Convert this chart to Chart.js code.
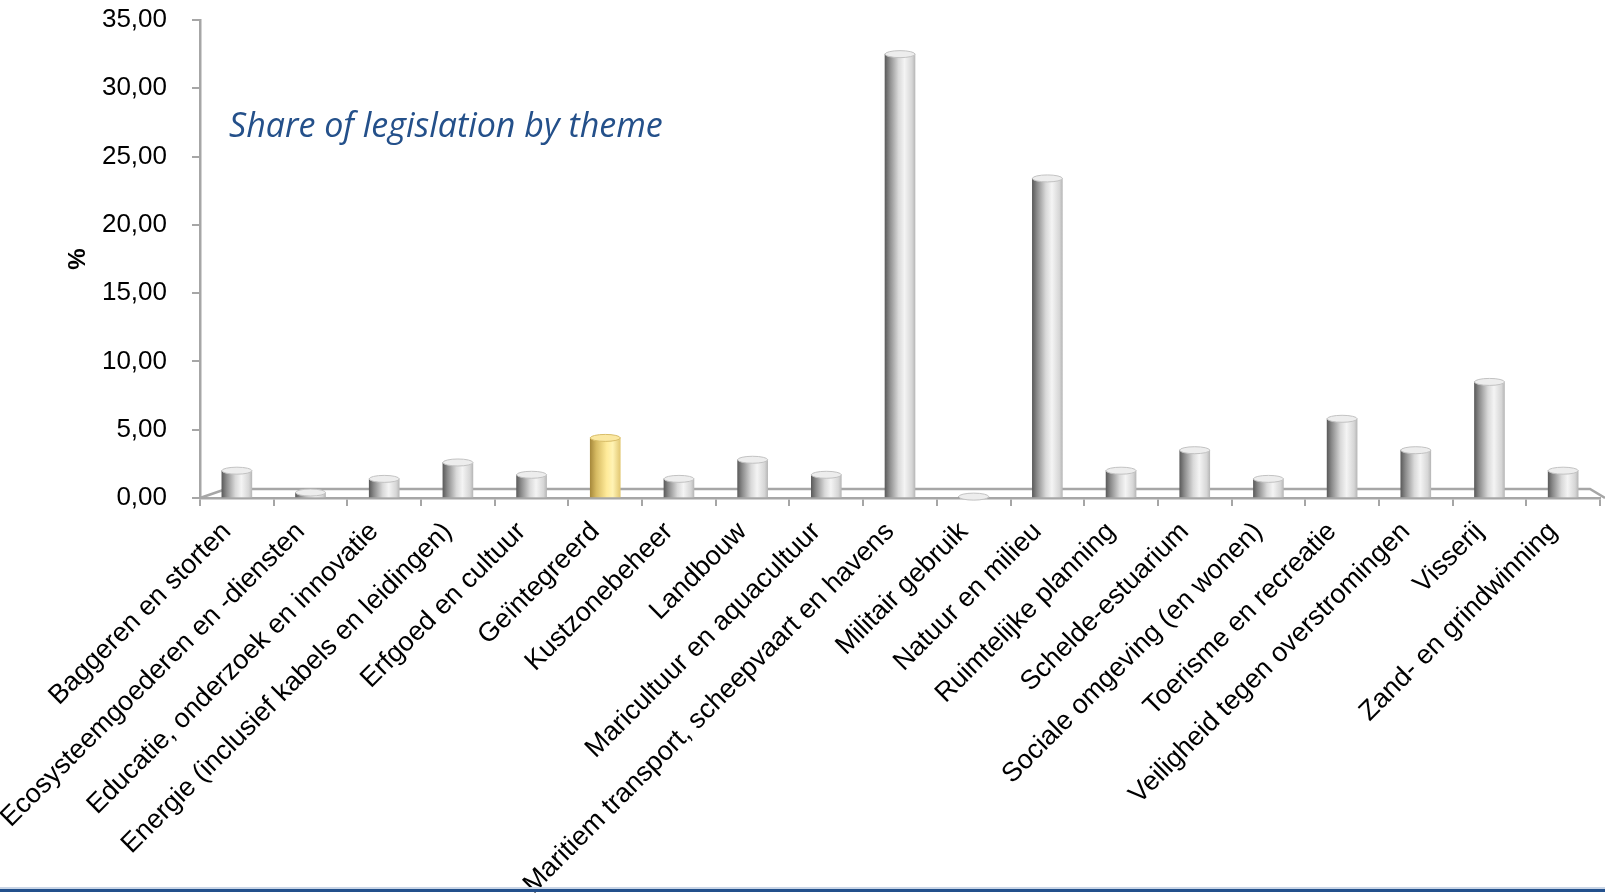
<!DOCTYPE html>
<html>
<head>
<meta charset="utf-8">
<script src="https://cdn.jsdelivr.net/npm/chart.js@4.4.1/dist/chart.umd.min.js"></script>
<style>
    body { margin: 0; background: #ffffff; }
    #wrap { position: relative; width: 1605px; height: 895px; }
    #lijn_licht { position: absolute; left: 0; top: 887px; width: 1605px; height: 2px; background: #c9d5e6; }
    #lijn_donker { position: absolute; left: 0; top: 889px; width: 1605px; height: 3px; background: #23508c; }
</style>
</head>
<body>
<div id="wrap">
    <canvas id="grafiek"></canvas>
    <div id="lijn_licht"></div>
    <div id="lijn_donker"></div>
</div>
<script>
const thema_labels = [
    'Baggeren en storten',
    'Ecosysteemgoederen en -diensten',
    'Educatie, onderzoek en innovatie',
    'Energie (inclusief kabels en leidingen)',
    'Erfgoed en cultuur',
    'Geïntegreerd',
    'Kustzonebeheer',
    'Landbouw',
    'Maricultuur en aquacultuur',
    'Maritiem transport, scheepvaart en havens',
    'Militair gebruik',
    'Natuur en milieu',
    'Ruimtelijke planning',
    'Schelde-estuarium',
    'Sociale omgeving (en wonen)',
    'Toerisme en recreatie',
    'Veiligheid tegen overstromingen',
    'Visserij',
    'Zand- en grindwinning'
];

const aandeel = [2.0, 0.4, 1.4, 2.6, 1.7, 4.4, 1.4, 2.8, 1.7, 32.5, 0.1, 23.4, 2.0, 3.5, 1.4, 5.8, 3.5, 8.5, 2.0];

const geel_thema = 'Geïntegreerd';

const y_ticks = [0, 5, 10, 15, 20, 25, 30, 35];

const grafiek = document.getElementById('grafiek');

function cilinder_kleur(context) {
    const chart = context.chart;
    if (!chart.chartArea) return '#cccccc';
    const x = chart.scales.x.getPixelForValue(context.dataIndex);
    const half = 15;
    const g = chart.ctx.createLinearGradient(x - half, 0, x + half, 0);
    if (thema_labels[context.dataIndex] == geel_thema) {
        g.addColorStop(0, '#a88a3c');
        g.addColorStop(0.2, '#d6ba62');
        g.addColorStop(0.55, '#ffeb9a');
        g.addColorStop(0.75, '#fff3b4');
        g.addColorStop(1, '#e2c873');
    } else {
        g.addColorStop(0, '#5c5c5c');
        g.addColorStop(0.15, '#8a8a8a');
        g.addColorStop(0.45, '#d9d9d9');
        g.addColorStop(0.65, '#f4f4f4');
        g.addColorStop(0.9, '#d6d6d6');
        g.addColorStop(1, '#b8b8b8');
    }
    return g;
}

// vloer van de 3D grafiek, titel en de dekseltjes op de cilinders
const extra_tekenen = {
    id: 'extra_tekenen',
    beforeDatasetsDraw(chart) {
        const ctx = chart.ctx;
        const area = chart.chartArea;
        const y0 = chart.scales.y.getPixelForValue(0);
        ctx.save();
        ctx.strokeStyle = '#a6a6a6';
        ctx.lineWidth = 2.5;
        ctx.beginPath();
        ctx.moveTo(area.left, y0);
        ctx.lineTo(area.left + 26, y0 - 9);
        ctx.lineTo(area.right - 10, y0 - 9);
        ctx.lineTo(area.right + 5, y0);
        ctx.stroke();
        ctx.restore();
    },
    afterDatasetsDraw(chart) {
        const ctx = chart.ctx;
        const meta = chart.getDatasetMeta(0);
        ctx.save();
        meta.data.forEach((bar, i) => {
            const geel = thema_labels[i] == geel_thema;
            ctx.beginPath();
            ctx.ellipse(bar.x, bar.y, bar.width / 2, 3.5, 0, 0, 2 * Math.PI);
            ctx.fillStyle = geel ? '#fbe8a2' : '#ededed';
            ctx.fill();
            ctx.lineWidth = 1;
            ctx.strokeStyle = geel ? '#d8bd68' : '#c2c2c2';
            ctx.stroke();
        });
        ctx.fillStyle = '#24508a';
        ctx.font = 'italic 34px "Open Sans"';
        ctx.textBaseline = 'alphabetic';
        ctx.textAlign = 'left';
        ctx.fillText('Share of legislation by theme', 229, 137);
        ctx.restore();
    }
};

const data_aandeel = {
    labels: thema_labels,
    datasets: [{
        label: '%',
        data: aandeel,
        backgroundColor: cilinder_kleur,
        borderWidth: 0,
        barThickness: 30
    }]
};

const config_aandeel = {
    type: 'bar',
    data: data_aandeel,
    options: {
        responsive: true,
        maintainAspectRatio: false,
        animation: false,
        layout: {
            padding: { left: 62, right: 5, top: 20, bottom: 0 }
        },
        scales: {
            y: {
                min: 0,
                max: 35,
                afterFit(axis) {
                    axis.width = 138;
                    axis.paddingTop = 16;
                },
                afterBuildTicks(axis) { axis.ticks = y_ticks.map(v => ({ value: v })); },
                border: { display: true, color: '#a6a6a6', width: 2.5 },
                grid: {
                    drawOnChartArea: false,
                    drawTicks: true,
                    tickLength: 8,
                    color: '#a6a6a6',
                    lineWidth: 2
                },
                ticks: {
                    padding: 25,
                    color: '#000000',
                    font: { size: 26, family: 'Liberation Sans' },
                    callback: v => v.toFixed(2).replace('.', ',')
                },
                title: {
                    display: true,
                    text: '%',
                    color: '#000000',
                    padding: { top: 2, bottom: 0 },
                    font: { size: 24, family: 'Liberation Sans', weight: 'bold' }
                }
            },
            x: {
                afterFit(axis) { axis.height = 397; },
                border: { display: true, color: '#a6a6a6', width: 2.5 },
                grid: {
                    offset: true,
                    drawOnChartArea: false,
                    drawTicks: true,
                    tickLength: 8,
                    color: '#a6a6a6',
                    lineWidth: 2
                },
                ticks: {
                    autoSkip: false,
                    minRotation: 45,
                    maxRotation: 45,
                    padding: 10,
                    labelOffset: -10,
                    color: '#000000',
                    font: { size: 27, family: 'Liberation Sans' }
                }
            }
        },
        plugins: {
            legend: { display: false },
            tooltip: { enabled: false }
        }
    },
    plugins: [extra_tekenen]
};

const grafiek_aandeel = new Chart(grafiek, config_aandeel);
</script>
</body>
</html>
